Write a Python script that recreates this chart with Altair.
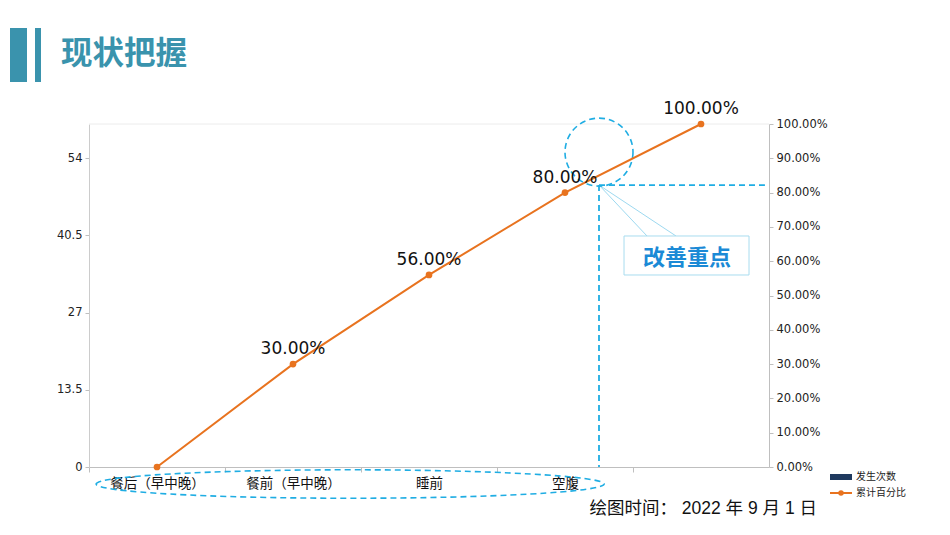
import json
import altair as alt
import pandas as pd

# ---------------- data ----------------
categories = ["餐后（早中晚）", "餐前（早中晚）", "睡前", "空腹", ""]
counts = [0, 0, 0, 0]                 # 发生次数 (no visible bars)
cum_pct = [0, 30, 56, 80, 100]        # 累计百分比 (%)
count_ticks = [0, 13.5, 27, 40.5, 54]
pct_ticks = [0, 10, 20, 30, 40, 50, 60, 70, 80, 90, 100]
title_text = "现状把握"
date_text = "绘图时间： 2022 年 9 月 1 日"
callout_text = "改善重点"
legend_labels = ["发生次数", "累计百分比"]

# ---------------- layout / style ----------------
W, H = 680, 343
NB = len(categories)
BAND = W / NB
ORANGE = "#e8731f"
NAVY = "#1f3a5f"
CYAN = "#1fade3"
TEAL = "#3a93ad"
GRAY = "#bfbfbf"
CJK = "Noto Sans CJK TC"
LAT = "DejaVu Sans"

x_scale = alt.Scale(domain=[0, NB], nice=False, zero=False, padding=0)
x_axis = alt.Axis(
    values=list(range(NB)),
    labelExpr=f"{json.dumps(categories, ensure_ascii=False)}[datum.value]",
    labelOffset=BAND / 2, labelOverlap=False, labelFlush=False, labelAlign="center",
    labelFont=CJK, labelFontSize=13.5,
    labelColor="#111", labelPadding=4, tickSize=5, tickColor=GRAY,
    domainColor=GRAY, grid=False, title=None,
)
c_scale = alt.Scale(domain=[0, 60], nice=False, zero=True, padding=0)
c_axis = alt.Axis(
    values=count_ticks, labelExpr="'' + datum.value", orient="left", labelFont=LAT,
    labelFontSize=11.5, labelColor="#222", tickSize=4, tickColor=GRAY,
    domainColor="#cccccc", grid=False, title=None, labelPadding=3,
)
p_scale = alt.Scale(domain=[0, 100], nice=False, zero=True, padding=0)
p_axis = alt.Axis(
    values=pct_ticks, labelExpr="format(datum.value/100, '.2%')", orient="right",
    labelFont=LAT, labelFontSize=11.5, labelColor="#222", tickSize=4,
    tickColor=GRAY, domainColor=GRAY, grid=False, title=None, labelPadding=3,
)

X = alt.X("x:Q", scale=x_scale, axis=x_axis)
Yp = alt.Y("y:Q", scale=p_scale, axis=p_axis)

# ---------------- tables ----------------
bar_df = pd.DataFrame({"x": [i + 0.5 for i in range(len(counts))], "count": counts})
line_df = pd.DataFrame({"x": [i + 0.5 for i in range(len(cum_pct))], "y": cum_pct})
line_df["label"] = [f"{v:.2f}%" for v in cum_pct]
lab_df = line_df[line_df["y"] > 0]

# ---------------- left axis layer (counts) ----------------
bars = alt.Chart(bar_df).mark_bar(color=NAVY, width=40).encode(
    x=X, y=alt.Y("count:Q", scale=c_scale, axis=c_axis)
)

# ---------------- right axis layer (cumulative %) ----------------
top_rule = alt.Chart(pd.DataFrame({"x": [0], "x2": [NB], "y": [100]})).mark_rule(
    color="#ececec", strokeWidth=1
).encode(x=X, x2="x2:Q", y=Yp)

line = alt.Chart(line_df).mark_line(color=ORANGE, strokeWidth=2).encode(x=X, y=Yp)
pts = alt.Chart(line_df).mark_circle(color=ORANGE, size=45, opacity=1).encode(x=X, y=Yp)
labels = alt.Chart(lab_df).mark_text(
    font=LAT, fontSize=17, color="#111", dy=-15, baseline="middle"
).encode(x=X, y=Yp, text="label:N")

# annotations (data space)
mark_x, mark_y = 3.75, 82.2
ann_dash = [6, 4]
vline = alt.Chart(pd.DataFrame({"x": [mark_x], "y": [mark_y], "y2": [0]})).mark_rule(
    color=CYAN, strokeWidth=1.8, strokeDash=ann_dash
).encode(x=X, y=Yp, y2="y2:Q")
hline = alt.Chart(pd.DataFrame({"x": [mark_x], "x2": [4.97], "y": [mark_y]})).mark_rule(
    color=CYAN, strokeWidth=1.8, strokeDash=ann_dash
).encode(x=X, x2="x2:Q", y=Yp)
circle = alt.Chart(pd.DataFrame({"x": [mark_x], "y": [91.8]})).mark_point(
    shape="circle", size=4624, filled=False, color=CYAN, strokeWidth=1.6,
    strokeDash=ann_dash, opacity=1
).encode(x=X, y=Yp)
ellipse = alt.Chart(pd.DataFrame({"x": [1.92], "y": [-4.96]})).mark_point(
    shape="M-1,0A1,0.056 0 1,1 1,0A1,0.056 0 1,1 -1,0Z", size=508 * 508,
    filled=False, color=CYAN, strokeWidth=1.6, strokeDash=ann_dash, opacity=1
).encode(x=X, y=Yp)
conn = alt.Chart(pd.DataFrame({
    "x": [mark_x, mark_x], "y": [mark_y, mark_y],
    "x2": [4.103, 4.316], "y2": [67.35, 67.35]
})).mark_rule(color="#9dd9f0", strokeWidth=1).encode(x=X, y=Yp, x2="x2:Q", y2="y2:Q")
box = alt.Chart(pd.DataFrame({"x": [3.934], "x2": [4.853], "y": [67.35], "y2": [55.98]})).mark_rect(
    fill="white", stroke="#a8dcef", strokeWidth=1
).encode(x=X, x2="x2:Q", y=Yp, y2="y2:Q")
box_text = alt.Chart(pd.DataFrame({"x": [4.397], "y": [60.93], "t": [callout_text]})).mark_text(
    font="Noto Sans CJK SC", fontSize=22, fontWeight="bold", color="#1b8ad6", baseline="middle"
).encode(x=X, y=Yp, text="t:N")

right = alt.layer(top_rule, conn, vline, hline, circle, ellipse, line, pts, labels, box, box_text)

# ---------------- decorations in pixel space (origin = plot top-left) ----------------
one = lambda **kw: pd.DataFrame({k: [v] for k, v in kw.items()})
bar1 = alt.Chart(one(a=1)).mark_rect(color=TEAL).encode(
    x=alt.value(-79), x2=alt.value(-62), y=alt.value(-96), y2=alt.value(-42))
bar2 = alt.Chart(one(a=1)).mark_rect(color=TEAL).encode(
    x=alt.value(-54), x2=alt.value(-48), y=alt.value(-96), y2=alt.value(-42))
title = alt.Chart(one(t=title_text)).mark_text(
    font="Noto Sans CJK SC", fontSize=31.5, fontWeight="bold", color=TEAL,
    align="left", baseline="middle"
).encode(x=alt.value(-28), y=alt.value(-69), text="t:N")
date = alt.Chart(one(t=date_text)).mark_text(
    font="Liberation Sans, Noto Sans CJK SC", fontSize=17.5, color="#111",
    align="right", baseline="middle"
).encode(x=alt.value(728), y=alt.value(385), text="t:N")

leg_rect = alt.Chart(one(a=1)).mark_rect(color=NAVY).encode(
    x=alt.value(741), x2=alt.value(763), y=alt.value(350), y2=alt.value(356))
leg_line = alt.Chart(one(a=1)).mark_rule(color=ORANGE, strokeWidth=2).encode(
    x=alt.value(741), x2=alt.value(763), y=alt.value(369))
leg_dot = alt.Chart(one(a=1)).mark_circle(color=ORANGE, size=30, opacity=1).encode(
    x=alt.value(752), y=alt.value(369))
leg_text = alt.Chart(pd.DataFrame({"t": legend_labels, "yy": [353, 369]})).mark_text(
    font="Noto Sans CJK SC", fontSize=10, color="#222", align="left", baseline="middle"
).encode(x=alt.value(767), y=alt.Y("yy:Q", scale=None), text="t:N")

chart = alt.layer(
    bars, right, bar1, bar2, title, date, leg_rect, leg_line, leg_dot, leg_text
).resolve_scale(y="independent").properties(
    width=W, height=H,
    autosize=alt.AutoSizeParams(type="none"),
    padding={"left": 89, "top": 124, "right": 181, "bottom": 68},
    background="white",
).configure_view(stroke=None)

chart.save("out.html", embed_options={"renderer": "svg", "actions": False})
